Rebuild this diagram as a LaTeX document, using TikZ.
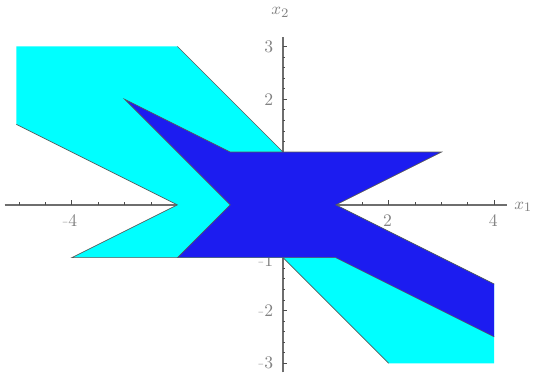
\documentclass[tikz,border=0pt]{standalone}
\definecolor{cyanfill}{RGB}{0,255,255}
\definecolor{bluefill}{RGB}{28,28,240}
\definecolor{axisgray}{RGB}{110,110,110}
\definecolor{labgray}{RGB}{130,130,130}
\definecolor{mingray}{RGB}{200,200,200}
\tikzset{
  axisline/.style={draw=axisgray,line width=0.8pt},
  tickmark/.style={draw=black!70,line width=0.4pt},
  lab/.style={text=labgray,font=\fontsize{9.5}{10}\selectfont,inner sep=0pt},
  edgeline/.style={draw=black!65,line width=0.35pt,line join=miter}
}
\newcommand{\mneg}{\llap{\textcolor{mingray}{-}}}
\begin{document}
\begin{tikzpicture}[x=1cm,y=1cm]
\useasboundingbox (-5.36,-3.26) rectangle (4.81,3.88);
\fill[white] (-5.36,-3.26) rectangle (4.81,3.88);
% axes
\draw[axisline] (-5.27,0) -- (4.25,0);
\draw[axisline] (0,-3.17) -- (0,3.17);
\foreach \x in {-5,-4.5,...,4} \draw[tickmark] (\x,0) -- (\x,0.05);
\foreach \x in {-4,-2,2,4} \draw[tickmark] (\x,0) -- (\x,0.1);
\foreach \y in {-3,-2.8,...,3.1} \draw[tickmark] (0,\y) -- (0.04,\y);
\foreach \y in {-3,-2,-1,1,2,3} \draw[tickmark] (0,\y) -- (0.08,\y);
% tick labels
\node[lab] (xm4) at (-3.98,-0.30) {\mneg 4};
\node[lab] (xm2) at (-2,-0.30) {\mneg 2};
\node[lab] (xp2) at (1.98,-0.30) {2};
\node[lab] (xp4) at (3.98,-0.30) {4};
\node[lab] (yp3) at (-0.27,3) {3};
\node[lab] (yp2) at (-0.27,2) {2};
\node[lab] (yp1) at (-0.27,1) {1};
\node[lab] (ym1) at (-0.27,-1.05) {\mneg 1};
\node[lab] (ym2) at (-0.27,-2) {\mneg 2};
\node[lab] (ym3) at (-0.27,-3) {\mneg 3};
\node[lab] (xone) at (4.55,-0.04) {$x_1$};
\node[lab] (xtwo) at (-0.05,3.64) {$x_2$};
% cyan region
\fill[cyanfill] (-5.05,3) -- (-2,3) -- (0,1) -- (1,0) -- (4,-1.5) -- (4,-3) -- (2,-3)
  -- (0,-1) -- (-4,-1) -- (-2,0) -- (-5.05,1.525) -- cycle;
\draw[edgeline] (-2,3) -- (0,1);
\draw[edgeline] (0,-1) -- (2,-3);
\draw[edgeline] (-5.05,1.525) -- (-2,0) -- (-4,-1) -- (-2,-1);
% blue region
\fill[bluefill] (-3,2) -- (-1,1) -- (3,1) -- (1,0) -- (4,-1.5) -- (4,-2.5) -- (1,-1)
  -- (-2,-1) -- (-1,0) -- cycle;
\draw[edgeline] (4,-1.5) -- (1,0) -- (3,1) -- (-1,1) -- (-3,2) -- (-1,0) -- (-2,-1)
  -- (1,-1) -- (4,-2.5);
\end{tikzpicture}
\end{document}
